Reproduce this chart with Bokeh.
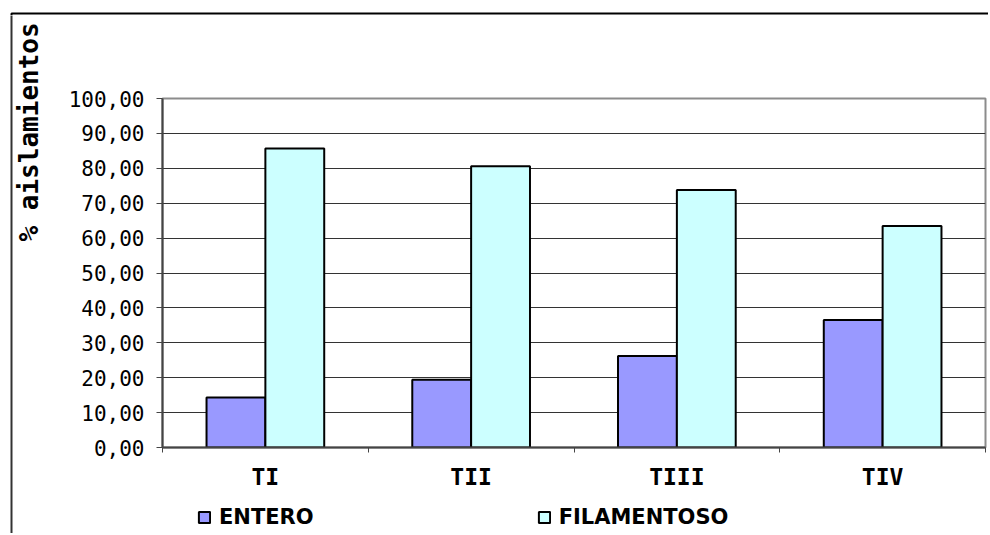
import math
from bokeh.plotting import figure
from bokeh.layouts import row, column
from bokeh.models import (Range1d, FixedTicker, Legend, LegendItem, Label,
                          BoxAnnotation, ColumnDataSource, CustomJSTickFormatter)
from bokeh.transform import dodge
from bokeh.embed import file_html
from bokeh.resources import INLINE

# ---- data ----
categories = ["TI", "TII", "TIII", "TIV"]
entero = [14.3, 19.4, 26.2, 36.5]
filamentoso = [85.7, 80.6, 73.8, 63.5]
series_names = ["ENTERO", "FILAMENTOSO"]
y_ticks = [0, 10, 20, 30, 40, 50, 60, 70, 80, 90, 100]
y_tick_labels = ["0,00", "10,00", "20,00", "30,00", "40,00", "50,00",
                 "60,00", "70,00", "80,00", "90,00", "100,00"]
y_title = "% aislamientos"

MONO = "DejaVu Sans Mono"
TOTAL_W, TOTAL_H = 988, 533
TOP_H = 15          # strip holding the top edge of the chart frame
TITLE_W = 60        # strip holding the vertical axis title
LEG_H = 33          # strip holding the legend
MAIN_W = TOTAL_W - TITLE_W
MAIN_H = TOTAL_H - TOP_H - LEG_H


def blank(w, h):
    f = figure(width=w, height=h, output_backend="svg", toolbar_location=None,
               x_axis_location=None, y_axis_location=None,
               min_border_left=0, min_border_right=0, min_border_top=0,
               min_border_bottom=0, x_range=Range1d(0, 1), y_range=Range1d(0, 1))
    f.xgrid.visible = False
    f.ygrid.grid_line_color = None
    f.outline_line_color = None
    f.background_fill_color = "white"
    f.border_fill_color = "white"
    return f


src = ColumnDataSource(dict(
    pos=[i + 0.5 for i in range(len(categories))],
    cat=categories,
    entero=entero,
    filamentoso=filamentoso,
))

# ---------------- main chart ----------------
p = figure(width=MAIN_W, height=MAIN_H, output_backend="svg", toolbar_location=None,
           x_range=Range1d(0, len(categories)), y_range=Range1d(0, 100),
           min_border_left=162 - TITLE_W, min_border_right=3,
           min_border_top=98 - TOP_H, min_border_bottom=TOP_H + MAIN_H - 447)
p.background_fill_color = "white"
p.border_fill_color = "white"
p.outline_line_color = "#8c8c8c"
p.outline_line_width = 2

bw = 0.286
bar_style = dict(line_color="black", line_width=2)
p.vbar(x=dodge("pos", -bw / 2, range=p.x_range), top="entero", width=bw,
       source=src, fill_color="#9999FF", **bar_style)
p.vbar(x=dodge("pos", bw / 2, range=p.x_range), top="filamentoso", width=bw,
       source=src, fill_color="#CCFFFF", **bar_style)

xa = p.xaxis[0]
xa.ticker = FixedTicker(ticks=[i + 0.5 for i in range(len(categories))],
                        minor_ticks=list(range(len(categories) + 1)))
xa.formatter = CustomJSTickFormatter(args=dict(labels=categories),
                                     code="return labels[Math.floor(tick)];")
xa.major_tick_line_color = None
xa.major_tick_out = 0
xa.major_tick_in = 0
xa.minor_tick_out = 5
xa.minor_tick_in = 0
xa.minor_tick_line_color = "#444444"
xa.minor_tick_line_width = 1
xa.axis_line_color = "#444444"
xa.axis_line_width = 2
xa.major_label_text_font = MONO
xa.major_label_text_font_style = "bold"
xa.major_label_text_font_size = "23px"
xa.major_label_text_color = "black"
xa.major_label_standoff = 11

ya = p.yaxis[0]
ya.ticker = FixedTicker(ticks=y_ticks, minor_ticks=[])
ya.major_label_overrides = {t: s for t, s in zip(y_ticks, y_tick_labels)}
ya.major_tick_out = 6
ya.major_tick_in = 0
ya.major_tick_line_color = "#444444"
ya.major_tick_line_width = 1
ya.minor_tick_line_color = None
ya.axis_line_color = "#444444"
ya.axis_line_width = 2
ya.major_label_text_font = MONO
ya.major_label_text_font_size = "21px"
ya.major_label_text_color = "black"
ya.major_label_standoff = 12

p.xgrid.visible = False
p.ygrid.grid_line_color = "#333333"
p.ygrid.grid_line_width = 1

# ---------------- top strip: top edge of the chart frame ----------------
top = blank(TOTAL_W, TOP_H)
top.add_layout(BoxAnnotation(left=11, right=5000, top=2, bottom=-100,
                             left_units="screen", right_units="screen",
                             top_units="screen", bottom_units="screen",
                             fill_alpha=0, line_color="black", line_width=2,
                             line_alpha=1))

# ---------------- left strip: vertical title + left frame edge ----------------
tfig = blank(TITLE_W, TOTAL_H - TOP_H)
tfig.add_layout(BoxAnnotation(left=11, right=5000, top=5000, bottom=-100,
                              left_units="screen", right_units="screen",
                              top_units="screen", bottom_units="screen",
                              fill_alpha=0, line_color="#333333", line_width=2,
                              line_alpha=1))
tfig.add_layout(Label(x=28, y=TOTAL_H - 241, x_units="screen", y_units="screen",
                      text=y_title, angle=math.pi / 2, text_align="left",
                      text_baseline="middle", text_font=MONO,
                      text_font_style="bold", text_font_size="26px",
                      text_color="black"))

# ---------------- legend strip ----------------
q = blank(MAIN_W, LEG_H)
q.x_range = Range1d(0, len(categories))
l1 = q.vbar(x=dodge("pos", -bw / 2, range=q.x_range), top="entero", width=bw,
            source=src, fill_color="#9999FF", visible=False, **bar_style)
l2 = q.vbar(x=dodge("pos", bw / 2, range=q.x_range), top="filamentoso", width=bw,
            source=src, fill_color="#CCFFFF", visible=False, **bar_style)
legend = Legend(items=[LegendItem(label=series_names[0], renderers=[l1]),
                       LegendItem(label=series_names[1], renderers=[l2])],
                orientation="horizontal", location=(35, 4),
                border_line_color=None, background_fill_alpha=0,
                inactive_fill_alpha=0,
                glyph_width=14, glyph_height=14, label_standoff=8,
                label_text_font="DejaVu Sans", label_text_font_style="bold",
                label_text_font_size="21px", label_text_color="black",
                spacing=223, padding=0, margin=0)
q.add_layout(legend)

layout = column(top, row(tfig, column(p, q)))

open("out.html", "w").write(file_html(layout, INLINE))
